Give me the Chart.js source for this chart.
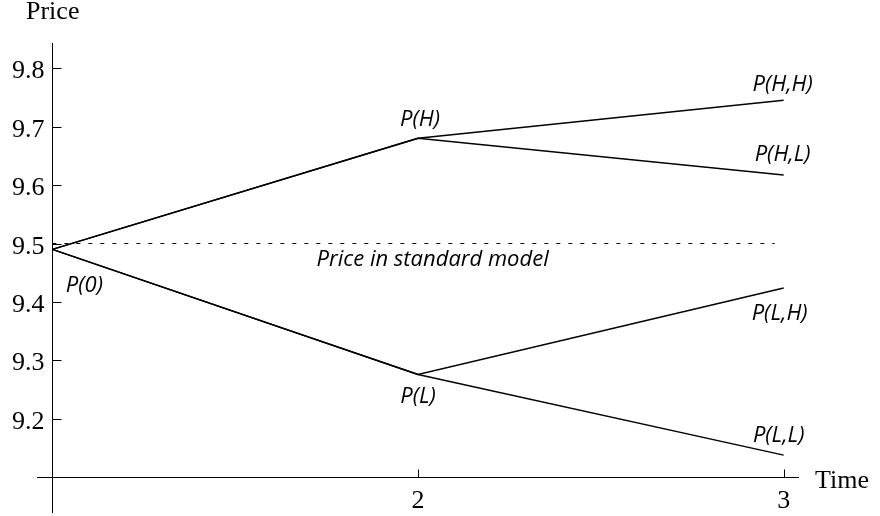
<!DOCTYPE html>
<html>
<head>
<meta charset="utf-8">
<script src="https://cdn.jsdelivr.net/npm/chart.js@4/dist/chart.umd.min.js"></script>
<style>
  html, body { margin: 0; padding: 0; background: #fff; }
  #wrap { width: 880px; height: 516px; }
</style>
</head>
<body>
<div id="wrap"><canvas id="c" width="880" height="516"></canvas></div>
<script>
// ---- data ----
const times = [1, 2, 3];
const pathHH = [9.49, 9.68, 9.745];
const pathHL = [9.49, 9.68, 9.617];
const pathLH = [9.49, 9.276, 9.424];
const pathLL = [9.49, 9.276, 9.138];
const standardPrice = 9.5;
const standardSpan = [1, 2.975];
const standardLabel = 'Price in standard model';
const nodeNames = ['P(0)', 'P(H)', 'P(L)', 'P(H,H)', 'P(H,L)', 'P(L,H)', 'P(L,L)'];
const nodeTimes = [1, 2, 2, 3, 3, 3, 3];
const nodePrices = [9.49, 9.68, 9.276, 9.745, 9.617, 9.424, 9.138];
const yTickValues = [9.2, 9.3, 9.4, 9.5, 9.6, 9.7, 9.8];
const yTickLabels = ['9.2', '9.3', '9.4', '9.5', '9.6', '9.7', '9.8'];
const xTickValues = [2, 3];
const xTickLabels = ['2', '3'];
const xAxisTitle = 'Time';
const yAxisTitle = 'Price';
const axisCross = { x: 1, y: 9.1 };

// ---- styles / placement (pixel offsets of labels relative to their node) ----
const nodeLabelOffsets = [[32, 43], [2, -12], [0, 29], [-1, -9], [-1, -14], [-4, 32], [-5, -13]];
const standardLabelAt = { x: 2.04, dy: 22 };
const serif = '"Liberation Serif", "Times New Roman", serif';
const sans = '"Open Sans", "Noto Sans", sans-serif';

const toPts = (ys) => times.map((t, i) => ({ x: t, y: ys[i] }));
const solid = (ys) => ({
  data: toPts(ys), borderColor: '#000', borderWidth: 1.5,
  pointRadius: 0, tension: 0, fill: false
});

const axesPlugin = {
  id: 'crossAxes',
  afterDraw(chart) {
    const { ctx, chartArea: a, scales: { x, y } } = chart;
    const ax = Math.round(x.getPixelForValue(axisCross.x)) + 0.5;
    const ay = Math.round(y.getPixelForValue(axisCross.y)) + 0.5;
    ctx.save();
    ctx.strokeStyle = '#000';
    ctx.lineWidth = 1;
    ctx.beginPath();
    ctx.moveTo(ax, a.top); ctx.lineTo(ax, a.bottom);
    ctx.moveTo(a.left, ay); ctx.lineTo(a.right, ay);
    yTickValues.forEach(v => {
      const py = Math.round(y.getPixelForValue(v)) + 0.5;
      ctx.moveTo(ax, py); ctx.lineTo(ax + 9, py);
    });
    xTickValues.forEach(v => {
      const px = Math.round(x.getPixelForValue(v)) + 0.5;
      ctx.moveTo(px, ay); ctx.lineTo(px, ay - 8);
    });
    ctx.stroke();

    ctx.fillStyle = '#000';
    ctx.font = '26px ' + serif;
    ctx.textBaseline = 'alphabetic';
    ctx.textAlign = 'right';
    yTickValues.forEach((v, i) => {
      ctx.fillText(yTickLabels[i], ax - 8, y.getPixelForValue(v) + 10);
    });
    ctx.textAlign = 'center';
    xTickValues.forEach((v, i) => {
      ctx.fillText(xTickLabels[i], x.getPixelForValue(v), ay + 30);
    });
    ctx.textAlign = 'left';
    ctx.fillText(yAxisTitle, 26, 19);
    ctx.fillText(xAxisTitle, a.right + 16, ay + 10);

    ctx.font = 'italic 22px ' + sans;
    ctx.textAlign = 'center';
    nodeNames.forEach((n, i) => {
      const [dx, dy] = nodeLabelOffsets[i];
      ctx.fillText(n, x.getPixelForValue(nodeTimes[i]) + dx, y.getPixelForValue(nodePrices[i]) + dy);
    });
    ctx.fillText(standardLabel, x.getPixelForValue(standardLabelAt.x), y.getPixelForValue(standardPrice) + standardLabelAt.dy);
    ctx.restore();
  }
};

new Chart(document.getElementById('c'), {
  type: 'line',
  data: {
    datasets: [
      solid(pathHH), solid(pathHL), solid(pathLH), solid(pathLL),
      {
        data: standardSpan.map(t => ({ x: t, y: standardPrice })),
        borderColor: '#000', borderWidth: 1, borderDash: [4, 8],
        pointRadius: 0, fill: false
      }
    ]
  },
  options: {
    responsive: false,
    devicePixelRatio: 1,
    animation: false,
    layout: { padding: { left: 37, right: 81, top: 43, bottom: 3 } },
    plugins: { legend: { display: false }, tooltip: { enabled: false } },
    scales: {
      x: { type: 'linear', display: false, min: 0.958, max: 3.042 },
      y: { type: 'linear', display: false, min: 9.039, max: 9.843 }
    }
  },
  plugins: [axesPlugin]
});
</script>
</body>
</html>
